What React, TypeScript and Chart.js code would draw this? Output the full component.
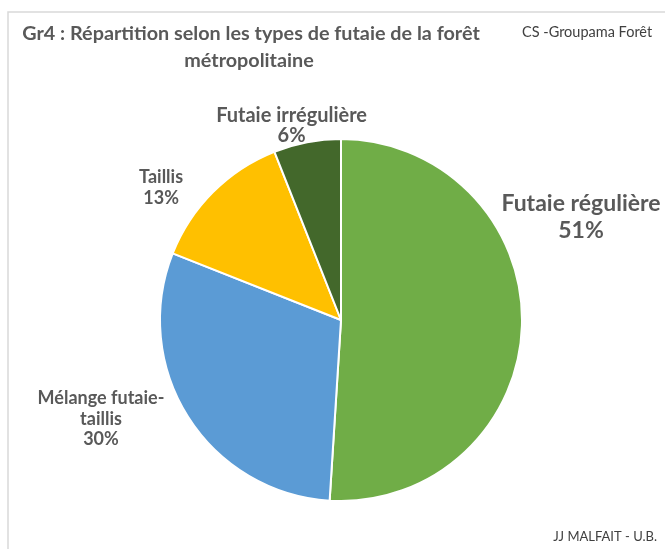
import React, { useEffect, useRef } from "react";
import { Chart, registerables } from "chart.js";

Chart.register(...registerables);

const categories = ["Futaie régulière", "Mélange futaie-taillis", "Taillis", "Futaie irrégulière"];
const labelLines = [["Futaie régulière"], ["Mélange futaie-", "taillis"], ["Taillis"], ["Futaie irrégulière"]];
const values = [51, 30, 13, 6];
const colors = ["#70AD47", "#5B9BD5", "#FFC000", "#43682B"];
const titleLines = ["Gr4 : Répartition selon les types de futaie de la forêt", "métropolitaine"];
const sourceText = "CS -Groupama Forêt";
const authorText = "JJ MALFAIT - U.B.";

// label placement relative to pie center, in units of radius
const labelOffsets = [
  { dx: 1.326, dy: -0.568, size: 23, lh: 27 },
  { dx: -1.326, dy: 0.547, size: 18, lh: 20.5 },
  { dx: -0.994, dy: -0.732, size: 18, lh: 21 },
  { dx: -0.273, dy: -1.072, size: 20, lh: 20 },
];

const FONT = "Lato, 'Open Sans', sans-serif";

const decorPlugin = {
  id: "decor",
  beforeDraw(chart: any) {
    const ctx = chart.ctx;
    ctx.save();
    ctx.fillStyle = "#ffffff";
    ctx.fillRect(0, 0, chart.width, chart.height);
    ctx.strokeStyle = "#D9D9D9";
    ctx.lineWidth = 1.5;
    ctx.strokeRect(8, 12, chart.width + 20, chart.height + 20);
    ctx.restore();
  },
  afterDraw(chart: any) {
    const ctx = chart.ctx;
    ctx.save();
    ctx.textAlign = "center";
    ctx.textBaseline = "middle";
    ctx.fillStyle = "#595959";
    ctx.font = `bold 19.8px ${FONT}`;
    ctx.fillText(titleLines[0], 251, 34);
    ctx.fillText(titleLines[1], 249, 61);

    ctx.font = `14.5px ${FONT}`;
    ctx.fillStyle = "#404040";
    ctx.textAlign = "left";
    ctx.fillText(sourceText, 522, 32);
    ctx.font = `13px ${FONT}`;
    ctx.textAlign = "right";
    ctx.fillText(authorText, 657, 537);

    const meta = chart.getDatasetMeta(0);
    const total = values.reduce((a, b) => a + b, 0);
    ctx.textAlign = "center";
    ctx.fillStyle = "#595959";
    meta.data.forEach((arc: any, i: number) => {
      const { x, y, outerRadius } = arc.getProps(["x", "y", "outerRadius"], true);
      const o = labelOffsets[i];
      const lines = [...labelLines[i], Math.round((values[i] / total) * 100) + "%"];
      const cx = x + o.dx * outerRadius;
      const cy = y + o.dy * outerRadius;
      ctx.font = `bold ${o.size}px ${FONT}`;
      const startY = cy - ((lines.length - 1) * o.lh) / 2;
      lines.forEach((t, k) => ctx.fillText(t, cx, startY + k * o.lh));
    });
    ctx.restore();
  },
};

export default function App() {
  const ref = useRef<HTMLCanvasElement>(null);
  useEffect(() => {
    if (!ref.current) return;
    const chart = new Chart(ref.current, {
      type: "pie",
      data: {
        labels: categories,
        datasets: [
          {
            data: values,
            backgroundColor: colors,
            borderColor: "#ffffff",
            borderWidth: 2,
          },
        ],
      },
      options: {
        responsive: false,
        animation: false,
        layout: { padding: { left: 158, right: 141, top: 138, bottom: 47 } },
        plugins: {
          legend: { display: false },
          title: { display: false },
          tooltip: { enabled: false },
        },
      },
      plugins: [decorPlugin],
    });
    return () => chart.destroy();
  }, []);
  return (
    <div style={{ position: "fixed", left: 0, top: 0, width: 665, height: 549, background: "#fff" }}>
      <canvas ref={ref} width={665} height={549} />
    </div>
  );
}
